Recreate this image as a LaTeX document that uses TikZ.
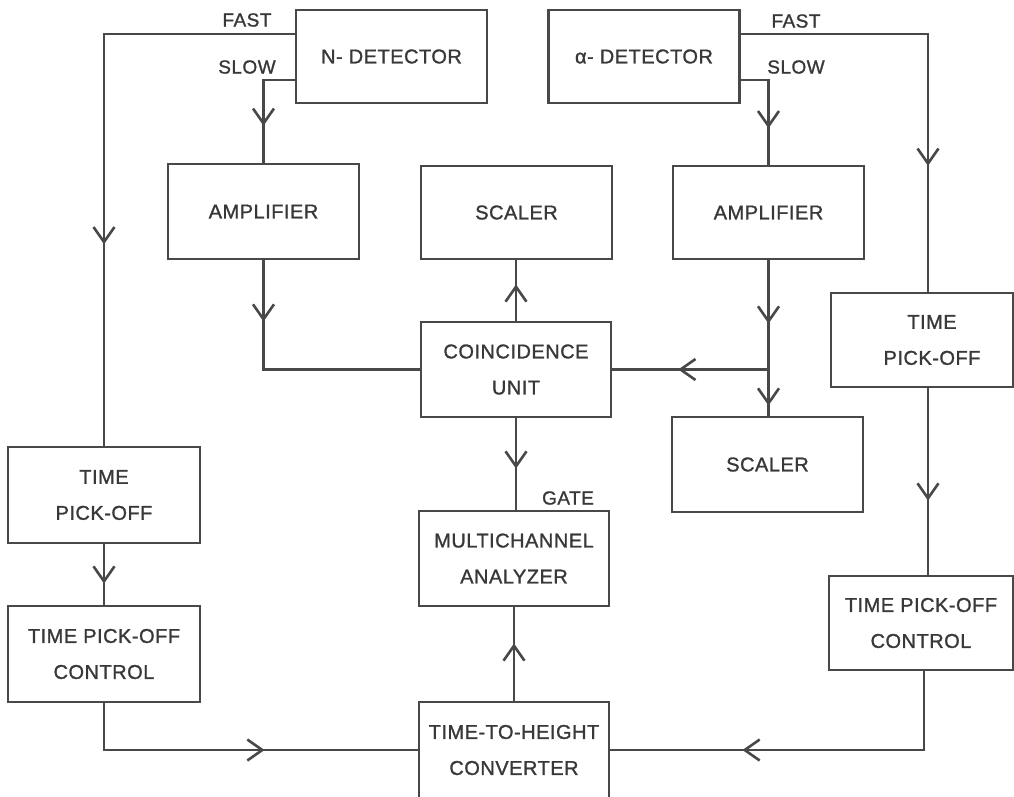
\documentclass[tikz,border=0pt]{standalone}
\usepackage{fontspec}
\setmainfont{Liberation Sans}[LetterSpace=2.5,FakeBold=1.2]
\usetikzlibrary{arrows.meta,decorations.markings,calc}
\definecolor{ink}{HTML}{484848}
\definecolor{txt}{HTML}{383838}
\tikzset{
  blk/.style={draw=ink, line width=2.6pt, inner sep=0pt, align=center, text=txt,
    font=\fontsize{20}{36}\selectfont},
  lbl/.style={text=txt, font=\fontsize{19}{20}\selectfont, inner sep=0pt},
  wire/.style={draw=ink, line width=2.6pt},
  arr/.style={postaction={decorate, decoration={markings,
    mark=at position #1 with {\draw[ink, line width=2.6pt, line join=miter] (-15pt,-10.5pt) -- (0pt,0pt) -- (-15pt,10.5pt);}}}},
}
\begin{document}
\begin{tikzpicture}[x=1pt,y=-1pt]
\useasboundingbox (0,0) rectangle (1014,796);
% boxes
\node[blk, minimum width=191pt, minimum height=93pt] (ndet) at (391.5,56.5) {N- DETECTOR};
\node[blk, minimum width=191pt, minimum height=93pt] (adet) at (644,56.5) {α- DETECTOR};
\node[blk, minimum width=191pt, minimum height=95pt] (ampL) at (263.5,211.5) {AMPLIFIER};
\node[blk, minimum width=191pt, minimum height=93pt] (scT) at (516.5,212.5) {SCALER};
\node[blk, minimum width=191pt, minimum height=93pt] (ampR) at (768.5,212.5) {AMPLIFIER};
\node[blk, minimum width=182pt, minimum height=94pt] (tpoR) at (922,340) {\hspace*{20pt}TIME\\\hspace*{20pt}PICK-OFF};
\node[blk, minimum width=190pt, minimum height=95pt] (coin) at (516,369.5) {COINCIDENCE\\UNIT};
\node[blk, minimum width=191pt, minimum height=95pt] (scR) at (767.5,464.5) {SCALER};
\node[blk, minimum width=192pt, minimum height=96pt] (tpoL) at (104,495) {TIME\\PICK-OFF};
\node[blk, minimum width=190pt, minimum height=95pt] (mca) at (514,558.5) {MULTICHANNEL\\ANALYZER};
\node[blk, minimum width=192pt, minimum height=96pt] (tpcL) at (104,654) {TIME PICK-OFF\\CONTROL};
\node[blk, minimum width=184pt, minimum height=94pt] (tpcR) at (921,623) {TIME PICK-OFF\\CONTROL};
\node[blk, minimum width=190pt, minimum height=96pt] (conv) at (514,750) {TIME-TO-HEIGHT\\CONVERTER};
% labels
\node[lbl] (fastL) at (247,20) {FAST};
\node[lbl] (slowL) at (247,67) {SLOW};
\node[lbl] (fastR) at (796,21) {FAST};
\node[lbl] (slowR) at (796,67) {SLOW};
\node[lbl] (gate) at (568,498) {GATE};
% output points
\coordinate (nf) at (296,34);
\coordinate (ns) at (296,80);
\coordinate (af) at (739.5,34);
\coordinate (as) at (739.5,80);
\coordinate (j) at (ampR.south |- coin.east);
% connectors
\draw[wire, arr=400pt] (nf) -| (tpoL.north);
\draw[wire, arr=76pt] (ns) -| (ampL.north);
\draw[wire, arr=75pt] (as) -| (ampR.north);
\draw[wire, arr=318pt] (af) -| ([xshift=6pt]tpoR.north);
\draw[wire, arr=59pt] (ampL.south) |- (coin.west);
\draw[wire, arr=34pt] (coin.north) -- (coin.north |- scT.south);
\draw[wire, arr=61pt, arr=143pt] (ampR.south) -- (ampR.south |- scR.north);
\draw[wire, arr=88pt] (j) -- (coin.east);
\draw[wire, arr=48pt] (coin.south) -- (coin.south |- mca.north);
\draw[wire, arr=55pt] (conv.north) -- (mca.south);
\draw[wire, arr=37pt] (tpoL.south) -- (tpcL.north);
\draw[wire, arr=205pt] (tpcL.south) |- (conv.west);
\draw[wire, arr=110pt] ([xshift=6pt]tpoR.south) -- ([xshift=6pt]tpoR.south |- tpcR.north);
\draw[wire, arr=258pt] ([xshift=3pt]tpcR.south) |- (conv.east);
\end{tikzpicture}
\end{document}
